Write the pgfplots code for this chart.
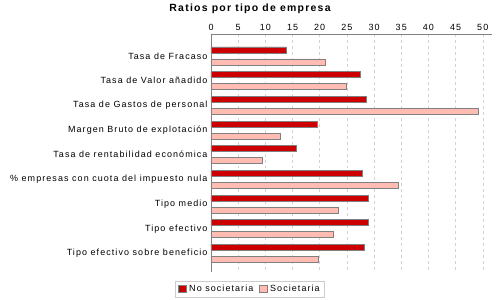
\documentclass[border=0pt]{standalone}
\usepackage{fontspec}
\setmainfont{Liberation Sans}[LetterSpace=12]
\usepackage{pgfplots}
\pgfplotsset{compat=1.18}
\definecolor{nosoc}{HTML}{CC0000}
\definecolor{soc}{HTML}{FFBCB2}
\definecolor{edge}{HTML}{808080}
\begin{document}
\begin{tikzpicture}
\useasboundingbox (0,0) rectangle (500bp,300bp);
\begin{axis}[
    at={(211bp,28bp)}, anchor=south west,
    scale only axis,
    width=281bp, height=238bp,
    xmin=0, xmax=51.7,
    ymin=-0.89, ymax=8.75,
    y dir=reverse,
    xbar, bar width=6bp,
    axis x line*=top, axis y line*=left,
    axis line style={edge, line width=0.8pt},
    xtick={0,5,...,50},
    ytick={0,...,8},
    yticklabels={Tasa de Fracaso, Tasa de Valor añadido, Tasa de Gastos de personal,
      Margen Bruto de explotación, Tasa de rentabilidad económica,
      \% empresas con cuota del impuesto nula, Tipo medio, Tipo efectivo,
      Tipo efectivo sobre beneficio},
    major tick length=0pt,
    tick label style={font=\fontsize{9}{10}\selectfont},
    /pgf/number format/assume math mode=true,
    xmajorgrids,
    grid style={dashed, gray!35, line width=0.5pt},
    legend style={at={(0.139,-0.071)}, anchor=center, draw=gray!40,
      legend columns=2, font=\fontsize{9}{10}\selectfont,
      /tikz/every even column/.append style={column sep=4pt}},
    legend image code/.code={\draw[#1, draw=edge, line width=0.8pt] (0cm,-3.5bp) rectangle (8bp,3.5bp);},
]
\addplot[fill=nosoc, draw=edge, line width=0.8pt, bar shift=6bp] coordinates {
    (13.8,0) (27.4,1) (28.5,2) (19.5,3) (15.8,4) (27.8,5) (28.9,6) (28.9,7) (28.3,8)
};
\addlegendentry{No societaria}
\addplot[fill=soc, draw=edge, line width=0.8pt, bar shift=-6bp] coordinates {
    (21.1,0) (25.0,1) (49.2,2) (12.7,3) (9.5,4) (34.4,5) (23.5,6) (22.6,7) (19.7,8)
};
\addlegendentry{Societaria}
\end{axis}
\node[font=\bfseries\fontsize{10.5}{12}\selectfont] at (250bp,291bp) {Ratios por tipo de empresa};
\end{tikzpicture}
\end{document}
